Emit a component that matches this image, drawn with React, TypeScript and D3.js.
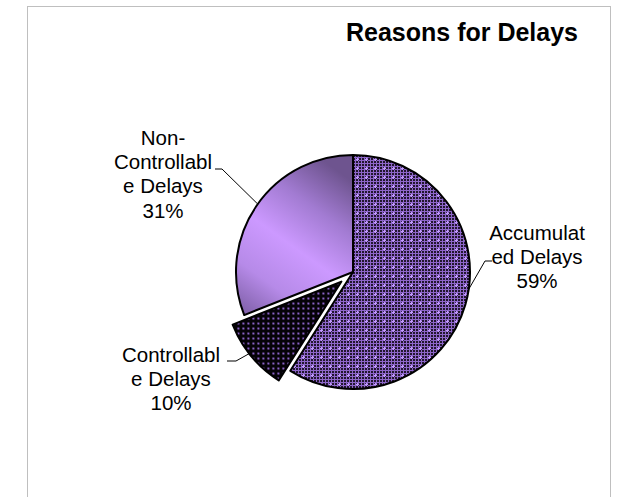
import React from "react";
import * as d3 from "d3";

const categories = ["Accumulated Delays", "Controllable Delays", "Non-Controllable Delays"];
const values = [59, 10, 31];
const labelLines = [
  ["Accumulat", "ed Delays"],
  ["Controllabl", "e Delays"],
  ["Non-", "Controllabl", "e Delays"],
];
const title = "Reasons for Delays";

const W = 618;
const H = 497;
const cx = 353;
const cy = 272;
const R = 117;
const explodeIdx = 1;
const explodeDist = 15;

// label layout (annotation placement, like Excel's best-fit)
const labelLayout = [
  { x: 537, y: 257, hook: { x1: 492, x2: 485, y: 261 }, angle: 98.5 },
  { x: 171, y: 379, hook: { x1: 227, x2: 236, y: 361 }, angle: 232 },
  { x: 163, y: 174, hook: { x1: 215, x2: 222, y: 169 }, angle: 305.5 },
];

export default function App() {
  const pie = d3
    .pie<number>()
    .sort(null)
    .value((d) => d)
    .startAngle(0)
    .endAngle(2 * Math.PI);
  const arcs = pie(values);
  const arc = d3.arc<d3.PieArcDatum<number>>().innerRadius(0).outerRadius(R);
  const total = d3.sum(values);
  const fmt = d3.format(".0%");

  const fills = ["url(#patAcc)", "url(#patCtrl)", "url(#gradNon)"];

  const accDark: [number, number][] = [];
  for (let i = 0; i < 3; i++)
    for (let j = 0; j < 3; j++) accDark.push([i * 3, j * 3]);

  return (
    <svg width={W} height={H} style={{ position: "absolute", left: 0, top: 0 }}>
      <defs>
        <pattern id="patAcc" patternUnits="userSpaceOnUse" width={9} height={9}>
          <rect width={9} height={9} fill="#8d66c9" />
          {accDark.map(([x, y], k) =>
            x === 3 && y === 3 ? null : (
              <rect key={k} x={x} y={y} width={2} height={2} fill="#22172f" />
            )
          )}
          <rect x={3} y={4} width={3} height={1} fill="#c29aff" />
          <rect x={4} y={3} width={1} height={3} fill="#c29aff" />
          <rect x={3} y={3} width={1} height={1} fill="#3a2a52" />
          <rect x={5} y={5} width={1} height={1} fill="#3a2a52" />
        </pattern>
        <pattern id="patCtrl" patternUnits="userSpaceOnUse" width={5} height={5}>
          <rect width={5} height={5} fill="#050208" />
          <rect x={1} y={1} width={2} height={2} fill="#7f56b8" />
          <rect x={1} y={1} width={1} height={1} fill="#a680e8" />
        </pattern>
        <linearGradient
          id="gradNon"
          gradientUnits="userSpaceOnUse"
          x1={cx - 5}
          y1={cy - R + 5}
          x2={cx - R + 10}
          y2={cy + 30}
        >
          <stop offset="0" stopColor="#6e548f" />
          <stop offset="0.25" stopColor="#a27bd2" />
          <stop offset="0.5" stopColor="#cc99ff" />
          <stop offset="0.75" stopColor="#b68ae8" />
          <stop offset="1" stopColor="#7a5ca2" />
        </linearGradient>
      </defs>

      <rect x={27.5} y={6.5} width={583} height={H + 10} fill="#fff" stroke="#bfbfbf" strokeWidth={1} />

      <text
        x={462}
        y={41}
        textAnchor="middle"
        fontFamily="Liberation Sans, Arial, sans-serif"
        fontWeight="bold"
        fontSize={25}
        fill="#000"
      >
        {title}
      </text>

      {arcs.map((a, i) => {
        const mid = (a.startAngle + a.endAngle) / 2;
        const d = i === explodeIdx ? explodeDist : 0;
        const dx = Math.sin(mid) * d;
        const dy = -Math.cos(mid) * d;
        return (
          <path
            key={categories[i]}
            d={arc(a) || ""}
            transform={`translate(${cx + dx},${cy + dy})`}
            fill={fills[i]}
            stroke="#000"
            strokeWidth={2}
            strokeLinejoin="round"
          />
        );
      })}

      {arcs.map((a, i) => {
        const mid = (a.startAngle + a.endAngle) / 2;
        const d = i === explodeIdx ? explodeDist : 0;
        const ox = cx + Math.sin(mid) * d;
        const oy = cy - Math.cos(mid) * d;
        const L = labelLayout[i];
        const ang = (L.angle * Math.PI) / 180;
        const ex = ox + Math.sin(ang) * R;
        const ey = oy - Math.cos(ang) * R;
        const lines = [...labelLines[i], fmt(values[i] / total)];
        const lh = 24.3;
        const y0 = L.y - ((lines.length - 1) * lh) / 2;
        return (
          <g key={"lab" + i}>
            <polyline
              points={`${L.hook.x1},${L.hook.y} ${L.hook.x2},${L.hook.y} ${ex},${ey}`}
              fill="none"
              stroke="#000"
              strokeWidth={1}
            />
            <text
              textAnchor="middle"
              fontFamily="Liberation Sans, Arial, sans-serif"
              fontSize={20.5}
              fill="#000"
            >
              {lines.map((t, k) => (
                <tspan key={k} x={L.x} y={y0 + k * lh} dy="0.35em">
                  {t}
                </tspan>
              ))}
            </text>
          </g>
        );
      })}
    </svg>
  );
}
